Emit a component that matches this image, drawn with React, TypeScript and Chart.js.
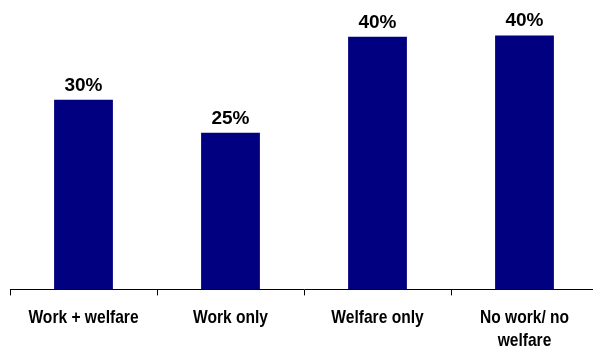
import React, { useEffect, useRef } from "react";
import { Chart, registerables } from "chart.js";

Chart.register(...registerables);

const categories: (string | string[])[] = ["Work + welfare", "Work only", "Welfare only", ["No work/ no", "welfare"]];
const values: number[] = [30, 24.8, 40, 40.2];
const valueLabels: string[] = ["30%", "25%", "40%", "40%"];

const CONDENSE = 0.82;

const barLabelPlugin = {
  id: "barLabels",
  afterDatasetsDraw(chart: any) {
    const ctx = chart.ctx;
    const meta = chart.getDatasetMeta(0);
    ctx.save();
    ctx.font = "bold 19px 'Liberation Sans', Arial, sans-serif";
    ctx.fillStyle = "#000000";
    ctx.textAlign = "center";
    ctx.textBaseline = "alphabetic";
    meta.data.forEach((bar: any, i: number) => {
      ctx.fillText(valueLabels[i], bar.x, bar.y - 9);
    });
    ctx.restore();
  },
};

// Draws the x-axis tick labels (positioned by the scale) in a condensed face
const condensedTicksPlugin = {
  id: "condensedTicks",
  afterDraw(chart: any) {
    const scale = chart.scales.x;
    const items = scale.getLabelItems();
    const ctx = chart.ctx;
    ctx.save();
    for (const item of items) {
      const [tx, ty] = item.options.translation;
      const lines = Array.isArray(item.label) ? item.label : [item.label];
      ctx.save();
      ctx.translate(tx, ty);
      ctx.scale(CONDENSE, 1);
      ctx.font = item.font.string;
      ctx.fillStyle = "#000000";
      ctx.textAlign = "center";
      ctx.textBaseline = item.options.textBaseline;
      let y = item.textOffset;
      for (const line of lines) {
        ctx.fillText(line, 0, y);
        y += item.font.lineHeight;
      }
      ctx.restore();
    }
    ctx.restore();
  },
};

export default function App() {
  const ref = useRef<HTMLCanvasElement | null>(null);
  useEffect(() => {
    if (!ref.current) return;
    const chart = new Chart(ref.current, {
      type: "bar",
      data: {
        labels: categories,
        datasets: [
          {
            data: values,
            backgroundColor: "#000080",
            borderWidth: 0,
            barPercentage: 0.4,
            categoryPercentage: 1,
          },
        ],
      },
      options: {
        responsive: false,
        animation: false,
        devicePixelRatio: 1,
        layout: { padding: { left: 10, right: 2, top: 0, bottom: -15 } },
        plugins: { legend: { display: false }, tooltip: { enabled: false } },
        scales: {
          x: {
            grid: {
              offset: true,
              drawOnChartArea: false,
              drawTicks: true,
              tickLength: 6,
              color: "#000000",
            },
            border: { display: true, color: "#000000", width: 1 },
            ticks: {
              color: "rgba(0,0,0,0)",
              padding: 11,
              maxRotation: 0,
              autoSkip: false,
              font: { family: "'Liberation Sans', Arial, sans-serif", size: 19, weight: "bold", lineHeight: 1.2 },
            },
          },
          y: {
            display: false,
            min: 0,
            max: 45.8,
          },
        },
      },
      plugins: [barLabelPlugin, condensedTicksPlugin],
    });
    return () => chart.destroy();
  }, []);
  return (
    <div style={{ position: "fixed", left: 0, top: 0, width: 593, height: 348, overflow: "hidden", background: "#fff" }}>
      <canvas ref={ref} width={600} height={348} style={{ display: "block" }} />
    </div>
  );
}
